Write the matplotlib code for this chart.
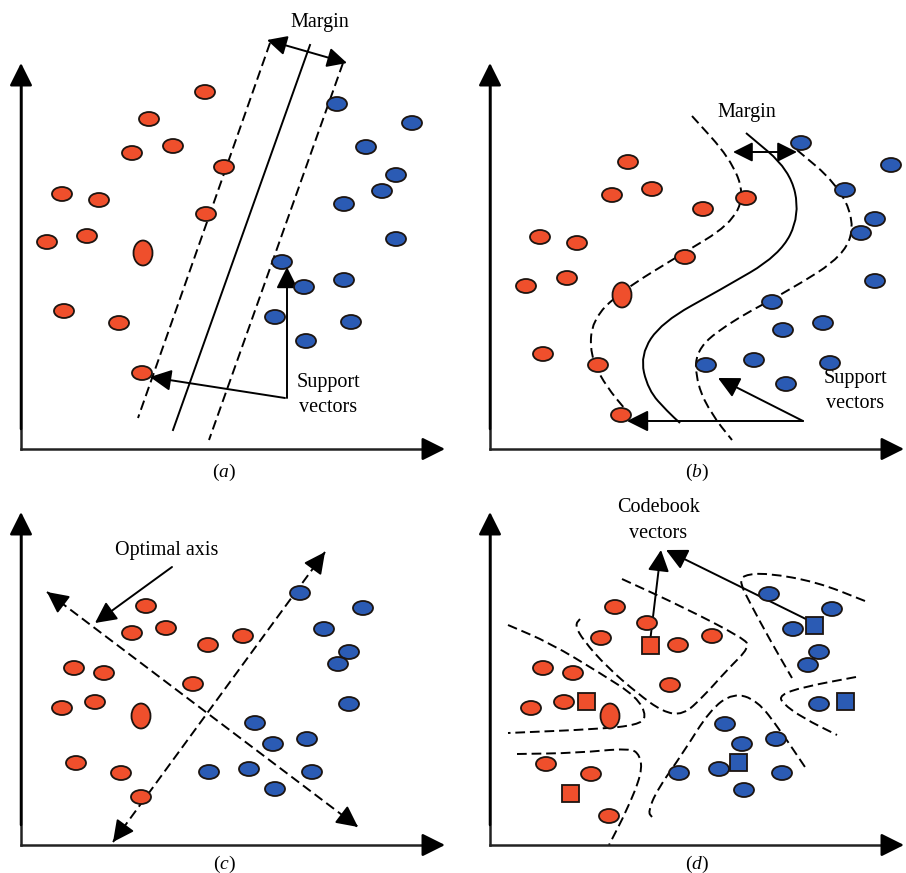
"""Four-panel sketch: SVM (linear / kernel), LDA axis and LVQ codebook vectors."""

import numpy as np
import matplotlib.pyplot as plt
from matplotlib.patches import Ellipse, Rectangle, PathPatch
from matplotlib.path import Path

plt.rcParams["font.family"] = ["Liberation Serif", "DejaVu Serif"]
plt.rcParams["mathtext.fontset"] = "custom"
plt.rcParams["mathtext.rm"] = "Liberation Serif"
plt.rcParams["mathtext.it"] = "Liberation Serif:italic"

RED = "#ef4f2c"
BLUE = "#2b5bb4"
EDGE = "#1c1410"
DASH = (0, (5, 2.5))

# ── Panel (a): linear SVM ─────────────────────────────────────────────────────
a_red_x = [205, 149, 173, 132, 224, 62, 99, 206, 47, 87, 64, 119, 142]
a_red_y = [92, 119, 146, 153, 167, 194, 200, 214, 242, 236, 311, 323, 373]
a_big = (143, 253)
a_blue_x = [337, 412, 366, 396, 382, 344, 396, 282, 304, 344, 275, 351, 306]
a_blue_y = [104, 123, 147, 175, 191, 204, 239, 262, 287, 280, 317, 322, 341]
a_solid = [(310, 45), (173, 430)]
a_dash_left = [(270, 43), (138, 418)]
a_dash_right = [(343, 63), (209, 440)]

# ── Panel (b): kernel SVM ─────────────────────────────────────────────────────
b_red_x = [628, 612, 652, 703, 746, 540, 577, 685, 526, 567, 543, 598, 621]
b_red_y = [162, 195, 189, 209, 198, 237, 243, 257, 286, 278, 354, 365, 415]
b_big = (622, 295)
b_blue_x = [801, 891, 845, 875, 861, 875, 772, 783, 823, 706, 754, 830, 786]
b_blue_y = [143, 165, 190, 219, 233, 281, 302, 330, 323, 365, 360, 363, 384]
b_solid_x = [746, 790, 800, 780, 720, 662, 640, 648, 668, 680]
b_solid_y = [133, 170, 215, 255, 290, 322, 355, 390, 412, 423]
b_dash_left_x = [692, 730, 745, 730, 680, 620, 592, 590, 605, 630]
b_dash_left_y = [116, 158, 195, 225, 255, 292, 320, 355, 385, 415]
b_dash_right_x = [797, 835, 855, 845, 790, 730, 695, 697, 712, 732]
b_dash_right_y = [150, 182, 220, 255, 290, 322, 350, 385, 415, 440]

# ── Panel (c): optimal axis ───────────────────────────────────────────────────
c_red_x = [146, 132, 166, 208, 243, 74, 104, 193, 62, 95, 76, 121, 141]
c_red_y = [606, 633, 628, 645, 636, 668, 673, 684, 708, 702, 763, 773, 797]
c_big = (141, 716)
c_blue_x = [300, 363, 324, 349, 338, 349, 255, 273, 307, 209, 249, 312, 275]
c_blue_y = [593, 608, 629, 652, 664, 704, 723, 744, 739, 772, 769, 772, 789]
c_axis1 = [(47, 592), (358, 827)]
c_axis2 = [(113, 842), (325, 552)]

# ── Panel (d): codebook vectors ───────────────────────────────────────────────
d_red_x = [615, 647, 601, 678, 712, 543, 573, 670, 531, 564, 546, 591, 609]
d_red_y = [607, 623, 638, 645, 636, 668, 673, 685, 708, 702, 764, 774, 816]
d_big = (610, 716)
d_red_sq_x = [650, 586, 570]
d_red_sq_y = [645, 701, 793]
d_blue_x = [769, 832, 793, 819, 808, 819, 725, 742, 776, 679, 719, 782, 744]
d_blue_y = [594, 609, 629, 652, 665, 704, 724, 744, 739, 773, 769, 773, 790]
d_blue_sq_x = [814, 845, 738]
d_blue_sq_y = [625, 701, 762]
d_curves = [
    ([865, 817, 767, 743, 740, 750, 770, 792],
     [601, 582, 573, 575, 583, 603, 640, 678]),
    ([856, 803, 780, 782, 803, 837],
     [677, 687, 695, 703, 718, 735]),
    ([652, 648, 657, 683, 710, 733, 757, 780, 807],
     [817, 812, 790, 753, 710, 693, 700, 730, 770]),
    ([622, 683, 743, 750, 727, 703, 683, 663, 637, 607, 583, 575, 580],
     [579, 607, 638, 647, 670, 697, 715, 712, 693, 667, 640, 625, 619]),
    ([508, 550, 600, 637, 647, 637, 600, 508],
     [625, 643, 673, 697, 717, 725, 729, 733]),
    ([517, 577, 630, 640, 642, 627, 609],
     [754, 753, 748, 755, 773, 810, 845]),
]

# axis frames: (y-axis x, axis bottom y, y-axis top, x-axis end)
frames = [(21, 449, 63, 445), (490, 449, 63, 904),
          (21, 845, 512, 445), (490, 845, 512, 904)]
panel_labels = [("a", 224, 472), ("b", 697, 472), ("c", 224, 864), ("d", 697, 864)]


def arrow(ax, tail, tip, scale=13, lw=1.4, style="-|>"):
    ax.annotate(
        "", xy=tip, xytext=tail,
        arrowprops=dict(arrowstyle=f"{style},head_length=1.0,head_width=0.5",
                        mutation_scale=scale, lw=lw, color="black",
                        shrinkA=0, shrinkB=0),
    )


def smooth(ax, xs, ys, ls=DASH, lw=1.4):
    pts = np.column_stack([xs, ys]).astype(float)
    mids = (pts[:-1] + pts[1:]) / 2
    verts = [pts[0], mids[0]]
    codes = [Path.MOVETO, Path.LINETO]
    for i in range(1, len(pts) - 1):
        verts += [pts[i], mids[i]]
        codes += [Path.CURVE3, Path.CURVE3]
    verts.append(pts[-1])
    codes.append(Path.LINETO)
    ax.add_patch(PathPatch(Path(verts, codes), facecolor="none",
                           edgecolor="black", lw=lw, linestyle=ls))


def dots(ax, xs, ys, color, big=None):
    for x, y in zip(xs, ys):
        ax.add_patch(Ellipse((x, y), 20, 14, facecolor=color,
                             edgecolor=EDGE, lw=1.3, zorder=4))
    if big is not None:
        ax.add_patch(Ellipse(big, 19, 25, facecolor=color,
                             edgecolor=EDGE, lw=1.3, zorder=4))


def squares(ax, xs, ys, color):
    for x, y in zip(xs, ys):
        ax.add_patch(Rectangle((x - 8.5, y - 8.5), 17, 17, facecolor=color,
                               edgecolor=EDGE, lw=1.3, zorder=5))


fig = plt.figure(figsize=(9.06, 8.73), dpi=100)
ax = fig.add_axes([0, 0, 1, 1])
ax.set_xlim(0, 906)
ax.set_ylim(873, 0)
ax.axis("off")

# ── Axes frames ───────────────────────────────────────────────────────────────
for x0, y0, ytop, xend in frames:
    ax.plot([x0, x0], [y0, ytop + 10], color="#222222", lw=1.8)
    ax.plot([x0, xend - 10], [y0, y0], color="#222222", lw=1.8)
    arrow(ax, (x0, y0 - 20), (x0, ytop), scale=14, lw=1.8)
    arrow(ax, (xend - 20, y0), (xend, y0), scale=14, lw=1.8)

for letter, x, y in panel_labels:
    ax.text(x, y, rf"($\it{{{letter}}}$)", ha="center", va="center", fontsize=14)

text_kw = dict(ha="center", va="center", fontsize=14.5)

# ── (a) ───────────────────────────────────────────────────────────────────────
ax.plot(*zip(*a_solid), color="black", lw=1.4)
ax.plot(*zip(*a_dash_left), color="black", lw=1.4, ls=DASH)
ax.plot(*zip(*a_dash_right), color="black", lw=1.4, ls=DASH)
dots(ax, a_red_x, a_red_y, RED, a_big)
dots(ax, a_blue_x, a_blue_y, BLUE)
arrow(ax, (267, 40), (347, 63), scale=12, style="<|-|>")
ax.text(320, 22, "Margin", **text_kw)
arrow(ax, (285, 398), (150, 377))
arrow(ax, (287, 398), (287, 267))
ax.text(328, 383, "Support", **text_kw)
ax.text(328, 408, "vectors", **text_kw)

# ── (b) ───────────────────────────────────────────────────────────────────────
smooth(ax, b_solid_x, b_solid_y, ls="-")
smooth(ax, b_dash_left_x, b_dash_left_y)
smooth(ax, b_dash_right_x, b_dash_right_y)
dots(ax, b_red_x, b_red_y, RED, b_big)
dots(ax, b_blue_x, b_blue_y, BLUE)
arrow(ax, (733, 152), (797, 152), scale=12, style="<|-|>")
ax.text(747, 113, "Margin", **text_kw)
arrow(ax, (803, 421), (627, 421))
arrow(ax, (803, 421), (718, 378))
ax.text(855, 379, "Support", **text_kw)
ax.text(855, 404, "vectors", **text_kw)

# ── (c) ───────────────────────────────────────────────────────────────────────
for (p0, p1) in (c_axis1, c_axis2):
    ax.plot([p0[0], p1[0]], [p0[1], p1[1]], color="black", lw=1.4, ls=DASH)
    d = np.subtract(p1, p0) / np.hypot(*np.subtract(p1, p0)) * 20
    arrow(ax, tuple(np.add(p0, d)), p0)
    arrow(ax, tuple(np.subtract(p1, d)), p1)
dots(ax, c_red_x, c_red_y, RED, c_big)
dots(ax, c_blue_x, c_blue_y, BLUE)
ax.text(167, 550, "Optimal axis", **text_kw)
arrow(ax, (172, 567), (95, 623))

# ── (d) ───────────────────────────────────────────────────────────────────────
for xs, ys in d_curves:
    smooth(ax, xs, ys)
dots(ax, d_red_x, d_red_y, RED, d_big)
dots(ax, d_blue_x, d_blue_y, BLUE)
squares(ax, d_red_sq_x, d_red_sq_y, RED)
squares(ax, d_blue_sq_x, d_blue_sq_y, BLUE)
ax.text(658, 507, "Codebook", **text_kw)
ax.text(658, 533, "vectors", **text_kw)
arrow(ax, (650, 642), (661, 550))
arrow(ax, (818, 625), (666, 550))

fig.savefig("out.png", dpi=100)
